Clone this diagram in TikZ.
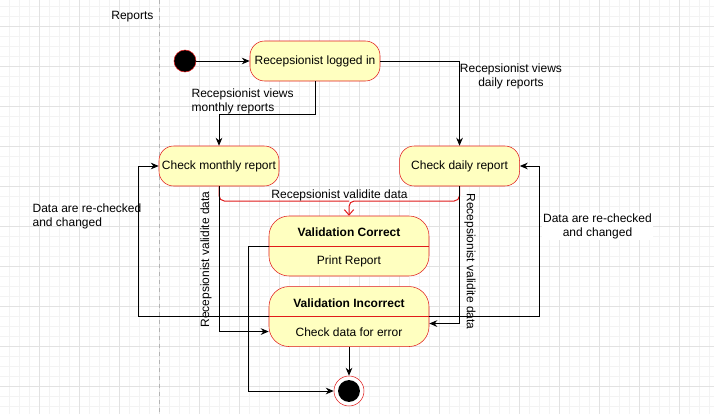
\documentclass[tikz,border=0pt]{standalone}
\usepackage{fontspec}
\setmainfont{Liberation Sans}
\usepackage{tikz}
\usetikzlibrary{arrows.meta,positioning}
\definecolor{StateRed}{HTML}{E01B1B}
\definecolor{StateFill}{HTML}{FFFFC0}
\definecolor{GridMinor}{HTML}{F3F3F3}
\definecolor{GridMajor}{HTML}{E2E2E2}
\definecolor{LaneGray}{HTML}{B4B4B4}
\newcommand{\diagfont}{\fontsize{9}{10.5}\selectfont}

\begin{document}
\begin{tikzpicture}[x=0.75pt,y=-0.75pt,>={Stealth[length=6pt,width=5pt]},font=\diagfont,
    statebox/.style={draw=StateRed,fill=StateFill,rounded corners=11pt,minimum width=90pt,minimum height=30pt,inner sep=2pt},
    splitbox/.style={draw=StateRed,fill=StateFill,rounded corners=15pt,minimum width=120pt,minimum height=45pt},
    boxtitle/.style={font=\diagfont\bfseries,inner sep=1pt},
    lbl/.style={inner sep=1pt},
    flow/.style={->,black,line width=0.75pt}]
    \useasboundingbox (0,0) rectangle (714,414);
    \fill[white] (0,0) rectangle (714,414);
    % grid
    \foreach \gx in {9,19,...,709} \draw[GridMinor,line width=0.5pt] (\gx,0) -- (\gx,414);
    \foreach \gy in {6,16,...,406} \draw[GridMinor,line width=0.5pt] (0,\gy) -- (714,\gy);
    \foreach \gx in {39,79,...,679} \draw[GridMajor,line width=0.6pt] (\gx,0) -- (\gx,414);
    \foreach \gy in {26,66,...,386} \draw[GridMajor,line width=0.6pt] (0,\gy) -- (714,\gy);
    % lane
    \draw[LaneGray,line width=0.6pt,dash pattern=on 3pt off 3pt] (159,0) -- (159,414);
    \node[lbl,anchor=east] (lane) at (155,17) {Reports};

    \node[circle,draw=StateRed,fill=black,minimum size=16.5pt,inner sep=0pt] (start) at (185,61) {};
    \node[statebox,minimum width=97.5pt] (login) at (315,61) {Recepsionist logged in};
    \node[statebox] (monthly) at (219,166) {Check monthly report};
    \node[statebox,right=90pt of monthly] (daily) {Check daily report};

    \node[splitbox] (vc) at (349,246) {};
    \draw[StateRed,line width=0.75pt] (vc.west) -- (vc.east);
    \node[boxtitle] (vctitle) at ([yshift=10.5pt]vc.center) {Validation Correct};
    \node[lbl] (vcbody) at ([yshift=-11.5pt]vc.center) {Print Report};

    \node[splitbox,below=7.5pt of vc] (vi) {};
    \draw[StateRed,line width=0.75pt] (vi.west) -- (vi.east);
    \node[boxtitle] (vititle) at ([yshift=10pt]vi.center) {Validation Incorrect};
    \node[lbl] (vibody) at ([yshift=-12pt]vi.center) {Check data for error};

    \node[circle,draw=StateRed,fill=white,minimum size=22.5pt,inner sep=0pt,
      path picture={\fill[black] (path picture bounding box.center) circle (8.2pt);}] (end) at (349,391) {};

    % edges
    \draw[flow] (start) -- (login);
    \draw[flow] (login.south) -- ++(0,33) -| (monthly.north);
    \draw[flow] (login.east) -| (daily.north);
    \coordinate (merge) at (349,201);
    \draw[StateRed,line width=0.75pt,rounded corners=4pt] (monthly.south) |- (merge);
    \draw[StateRed,line width=0.75pt,rounded corners=4pt,-{Straight Barb[length=4pt,width=7pt]}] (daily.south) |- (merge) -- (vc.north);
    \draw[flow] (monthly.south) |- ([yshift=-11.25pt]vi.west);
    \draw[flow] (daily.south) |- ([yshift=-5.25pt]vi.east);
    \draw[flow] (vi.west) -| ([xshift=-15pt]monthly.west) -- (monthly.west);
    \draw[flow] (vi.east) -| ([xshift=15pt]daily.east) -- (daily.east);
    \draw[flow] (vc.west) -- ++(-20,0) |- (end.west);
    \draw[flow] (vi.south) -- (end.north);

    % labels
    \node[lbl,anchor=west,align=left] (lblmonthly) at (190,101.5) {Recepsionist views\\monthly reports};
    \node[lbl,align=center] (lbldaily) at (511,76.5) {Recepsionist views\\daily reports};
    \node[lbl] (lblmerge) at (339.5,195) {Recepsionist validite data};
    \node[lbl,rotate=90] (lblvalleft) at (206,259.5) {Recepsionist validite data};
    \node[lbl,rotate=-90] (lblvalright) at (470,261.5) {Recepsionist validite data};
    \node[lbl,anchor=west,align=left] (lblrecheckl) at (31,216.5) {Data are re-checked\\and changed};
    \node[lbl,fill=white,align=center] (lblrecheckr) at (597.5,226.5) {Data are re-checked\\and changed};
\end{tikzpicture}
\end{document}
